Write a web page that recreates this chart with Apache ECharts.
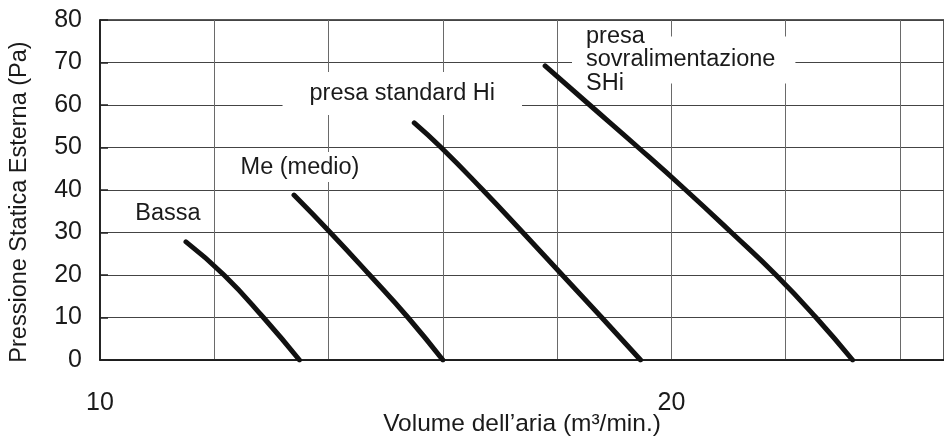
<!DOCTYPE html>
<html>
<head>
<meta charset="utf-8">
<script src="https://cdn.jsdelivr.net/npm/echarts@6/dist/echarts.min.js"></script>
<style>
html,body{margin:0;padding:0;background:#fff;}
#chart{width:944px;height:441px;}
</style>
</head>
<body>
<div id="chart"></div>
<script>
// ---- data ----
const bassaX = [11.505, 12.17, 12.86, 13.49];
const bassaY = [27.8, 20, 10, 0];
const medioX = [13.395, 14.03, 14.72, 15.39, 16.0];
const medioY = [38.8, 30, 20, 10, 0];
const hiX = [15.50, 15.97, 16.70, 17.40, 18.09, 18.78, 19.46];
const hiY = [55.8, 50, 40, 30, 20, 10, 0];
const shiX = [17.79, 18.57, 19.42, 20.25, 21.05, 21.83, 22.53, 23.17];
const shiY = [69.2, 60, 50, 40, 30, 20, 10, 0];

const xTickLabels = [10, 20];
const yTicks = [0, 10, 20, 30, 40, 50, 60, 70, 80];

const labelNames = ['Bassa', 'Me (medio)', 'presa standard Hi', 'sovralimentazione', 'presa', 'SHi'];
const labelX = [11.19, 13.5, 15.29, 18.505, 18.505, 18.505];
const labelY = [34.5, 45.4, 62.7, 70.6, 76.2, 65.1];

const xAxisName = 'Volume dell\u2019aria (m\u00b3/min.)';
const yAxisName = 'Pressione Statica Esterna (Pa)';

// ---- chart ----
const FONT = 'Liberation Sans, Arial, Helvetica, sans-serif';
const TXT = '#1a1a1a';
const zip = (xs, ys) => xs.map((x, i) => [x, ys[i]]);

const labelStyles = [
  { align: 'center', backgroundColor: 'transparent', padding: 0, offset: [0, 0] },
  { align: 'center', backgroundColor: '#fff', padding: [6, 8, 0, 8], offset: [0, 0] },
  { align: 'center', backgroundColor: '#fff', padding: [8, 27, 11, 27], offset: [0, 0] },
  { align: 'left', backgroundColor: '#fff', padding: [17, 20, 6, 14], offset: [-14, 0] },
  { align: 'left', backgroundColor: 'transparent', padding: 0, offset: [0, 0] },
  { align: 'left', backgroundColor: 'transparent', padding: 0, offset: [0, 0] }
];

const curveSeries = [[bassaX, bassaY], [medioX, medioY], [hiX, hiY], [shiX, shiY]].map(([xs, ys]) => ({
  type: 'line',
  data: zip(xs, ys),
  smooth: 0.5,
  showSymbol: false,
  symbol: 'none',
  z: 5,
  lineStyle: { color: '#111', width: 5, cap: 'round' }
}));

const labelSeries = {
  type: 'scatter',
  symbolSize: 0,
  z: 4,
  silent: true,
  itemStyle: { opacity: 1 },
  data: labelNames.map((n, i) => ({
    name: n,
    value: [labelX[i], labelY[i]],
    label: {
      show: true,
      position: 'inside',
      formatter: '{b}',
      color: TXT,
      opacity: 1,
      fontFamily: FONT,
      fontSize: 23.5,
      lineHeight: 24,
      verticalAlign: 'middle',
      align: labelStyles[i].align,
      backgroundColor: labelStyles[i].backgroundColor,
      padding: labelStyles[i].padding,
      offset: labelStyles[i].offset
    }
  }))
};

const chart = echarts.init(document.getElementById('chart'), null, { renderer: 'canvas' });
chart.setOption({
  animation: false,
  backgroundColor: '#fff',
  grid: {
    left: 100, right: 0, top: 20, bottom: 81,
    outerBoundsMode: 'none', containLabel: false,
    show: true, borderColor: '#222', borderWidth: 1.5, backgroundColor: 'transparent'
  },
  xAxis: {
    type: 'value',
    min: 10,
    max: 24.77,
    interval: 2,
    name: xAxisName,
    nameLocation: 'middle',
    nameGap: 52,
    nameMoveOverlap: false,
    nameTextStyle: { color: TXT, fontFamily: FONT, fontSize: 24.5 },
    axisLine: { show: true, lineStyle: { color: '#111', width: 1.5 } },
    axisTick: { show: false },
    axisLabel: {
      margin: 31,
      color: TXT,
      fontFamily: FONT,
      fontSize: 25,
      formatter: v => (xTickLabels.indexOf(v) >= 0 ? String(v) : '')
    },
    splitLine: { show: true, lineStyle: { color: '#6a6a6a', width: 1 } }
  },
  yAxis: {
    type: 'value',
    min: yTicks[0],
    max: yTicks[yTicks.length - 1],
    interval: 10,
    name: yAxisName,
    nameLocation: 'middle',
    nameGap: 68,
    nameMoveOverlap: false,
    nameTextStyle: { color: TXT, fontFamily: FONT, fontSize: 23.5, padding: [0, 24, 0, 0] },
    axisLine: { show: true, lineStyle: { color: '#111', width: 1.5 } },
    axisTick: { show: true, inside: true, length: 8, lineStyle: { color: '#222', width: 1.5 } },
    axisLabel: { margin: 18, color: TXT, fontFamily: FONT, fontSize: 25 },
    splitLine: { show: true, lineStyle: { color: '#444', width: 1 } }
  },
  series: curveSeries.concat([labelSeries])
});
</script>
</body>
</html>
